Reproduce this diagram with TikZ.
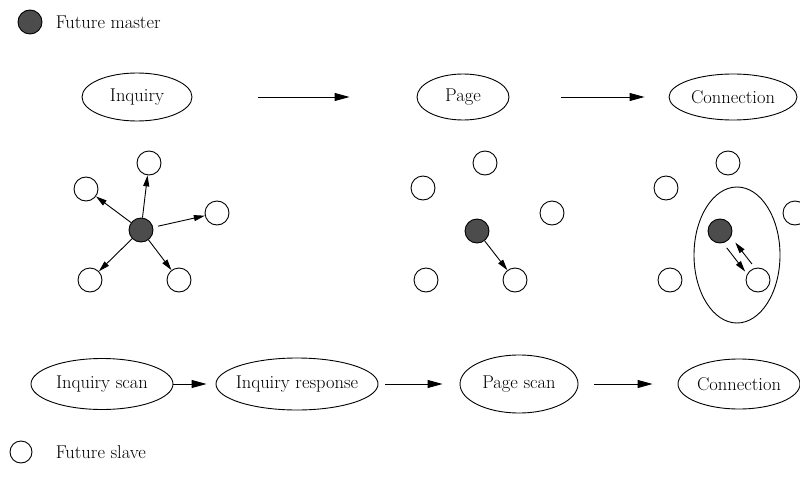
\documentclass[tikz,border=0pt]{standalone}
\usetikzlibrary{arrows.meta,shapes.geometric}

\begin{document}
\begin{tikzpicture}[x=1pt,y=-1pt,line width=0.9pt,font=\fontsize{18.5}{22}\selectfont,
    state/.style={draw,ellipse,inner sep=-14pt},
    slave/.style={draw,circle,minimum size=24pt,inner sep=0pt},
    master/.style={slave,fill=black!70},
    flow/.style={-{Triangle[length=15pt,width=8pt]}},
    link/.style={-{Triangle[length=11pt,width=6pt]}}]
    \useasboundingbox (0,0) rectangle (800,487);
    \node[master] (lm) at (30,22) {};
    \node[anchor=west] (lmt) at (52,22) {Future master};
    \node[slave,minimum size=22pt] (ls) at (21,452) {};
    \node[anchor=west] (lst) at (52,452) {Future slave};

    \node[state,minimum width=110pt,minimum height=48pt] (inq) at (137,97) {Inquiry};
    \node[state,minimum width=92pt,minimum height=46pt] (page) at (463,97) {Page};
    \node[state,minimum width=128pt,minimum height=46pt] (conn) at (733,97) {Connection};
    \draw[flow,shorten <=66pt,shorten >=67pt] (inq) -- (page);
    \draw[flow,shorten <=52pt,shorten >=24pt] (page) -- (conn);

    \node[state,minimum width=142pt,minimum height=51pt] (scan) at (102,384) {Inquiry scan};
    \node[state,minimum width=162pt,minimum height=52pt] (resp) at (297,384) {Inquiry response};
    \node[state,minimum width=118pt,minimum height=58pt] (pscan) at (519,384) {Page scan};
    \node[state,minimum width=122pt,minimum height=50pt] (bconn) at (739,384) {Connection};
    \draw[flow,shorten >=9pt] (scan) -- (resp);
    \draw[flow,shorten <=7pt,shorten >=17pt] (resp) -- (pscan);
    \draw[flow,shorten <=16pt,shorten >=25pt] (pscan) -- (bconn);

    \node[master] (im) at (141,230) {};
    \node[slave] (i1) at (149,163) {};
    \node[slave] (i2) at (86,189) {};
    \node[slave] (i3) at (217,213) {};
    \node[slave] (i4) at (90,280) {};
    \node[slave] (i5) at (179,280) {};
    \draw[link] (im) -- (i1);
    \draw[link] (im) -- (i2);
    \draw[link,shorten <=5pt] (im) -- (i3);
    \draw[link] (im) -- (i4);
    \draw[link] (im) -- (i5);

    \node[master] (pm) at (477,231) {};
    \node[slave] (p1) at (485,163) {};
    \node[slave] (p2) at (423,188) {};
    \node[slave] (p3) at (552,213) {};
    \node[slave] (p4) at (426,280) {};
    \node[slave] (p5) at (515,280) {};
    \draw[link] (pm) -- (p5);

    \node[draw,ellipse,minimum width=86pt,minimum height=136pt] (pair) at (737,255) {};
    \node[master] (cm) at (720,231) {};
    \node[slave] (c1) at (728,163) {};
    \node[slave] (c2) at (666,188) {};
    \node[slave] (c3) at (795,213) {};
    \node[slave] (c4) at (670,280) {};
    \node[slave] (c5) at (758,280) {};
    \draw[link,shorten <=5pt,shorten >=2pt,transform canvas={shift={(-4,3)}}] (cm) -- (c5);
    \draw[link,shorten <=4pt,shorten >=6pt,transform canvas={shift={(4,-3)}}] (c5) -- (cm);
\end{tikzpicture}
\end{document}
